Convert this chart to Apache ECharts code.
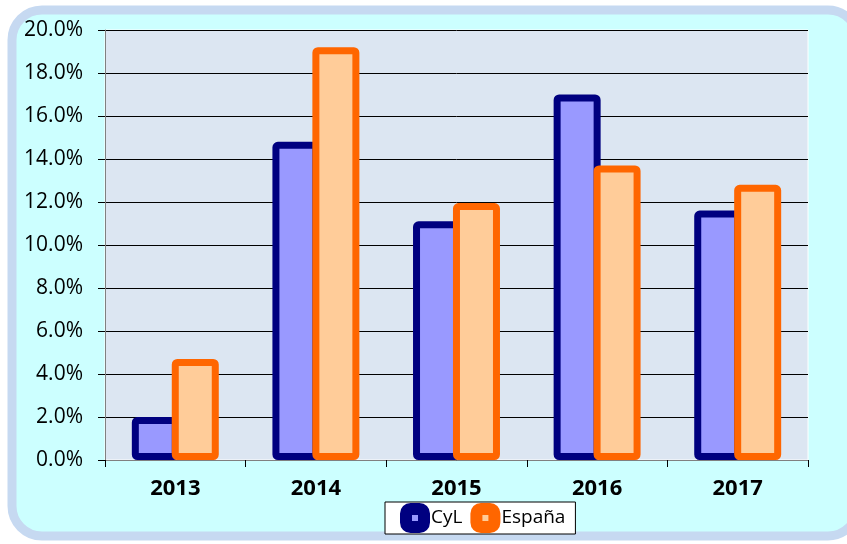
<!DOCTYPE html>
<html>
<head>
<meta charset="utf-8">
<script src="https://cdn.jsdelivr.net/npm/echarts@6/dist/echarts.min.js"></script>
<style>
  html, body { margin: 0; padding: 0; background: #fff; }
  #chart { width: 847px; height: 544px; }
</style>
</head>
<body>
<div id="chart"></div>
<script>
// datos (borde exterior de cada barra)
var years = ['2013', '2014', '2015', '2016', '2017'];
var cyl = [2.0, 14.8, 11.1, 17.0, 11.6];
var espana = [4.7, 19.2, 11.95, 13.7, 12.8];
var yTicks = [0, 2, 4, 6, 8, 10, 12, 14, 16, 18, 20];

var e = echarts.init(document.getElementById('chart'));
var font = 'Open Sans';

var option = {
    animation: false,
    textStyle: { fontFamily: font },
    graphic: [
        {
            type: 'rect',
            z: -10,
            shape: { x: 12, y: 10, width: 846, height: 526, r: 30 },
            style: { fill: '#ccffff', stroke: '#c6d9f1', lineWidth: 9 }
        }
    ],
    legend: {
        data: [
            { name: 'CyL', itemStyle: { color: '#9999ff', borderColor: '#000080', borderWidth: 12, borderRadius: 3 } },
            { name: 'España', itemStyle: { color: '#ffcc99', borderColor: '#ff6600', borderWidth: 12, borderRadius: 3 } }
        ],
        left: 385,
        top: 502,
        itemWidth: 18,
        itemHeight: 18,
        itemGap: 8,
        padding: [1, 10, 1, 15],
        backgroundColor: '#fff',
        borderColor: '#000',
        borderWidth: 1,
        textStyle: { fontSize: 19, lineHeight: 22, color: '#000', fontFamily: font, padding: [0, 0, 0, 2] }
    },
    grid: {
        left: 105,
        right: 39,
        top: 30,
        bottom: 84,
        show: true,
        backgroundColor: '#dce6f2',
        borderColor: '#fff',
        borderWidth: 1
    },
    xAxis: {
        type: 'category',
        data: years,
        axisLine: { lineStyle: { color: '#808080', width: 1 } },
        axisTick: { show: true, length: 7, lineStyle: { color: '#000' } },
        axisLabel: { fontSize: 22, fontWeight: 'bold', color: '#000', margin: 18, fontFamily: font }
    },
    yAxis: {
        type: 'value',
        min: yTicks[0],
        max: yTicks[yTicks.length - 1],
        interval: 2,
        axisLine: { show: true, lineStyle: { color: '#808080', width: 1 } },
        axisTick: { show: true, length: 7, lineStyle: { color: '#000' } },
        splitLine: { lineStyle: { color: '#000', width: 1 } },
        axisLabel: {
            fontSize: 21,
            color: '#000',
            margin: 22,
            fontFamily: font,
            formatter: function (v) { return v.toFixed(1) + '%'; }
        }
    },
    series: [
        {
            name: 'CyL',
            type: 'bar',
            data: cyl,
            barWidth: 47,
            barGap: '-15%',
            itemStyle: { color: '#9999ff', borderColor: '#000080', borderWidth: 7, borderRadius: 2 }
        },
        {
            name: 'España',
            type: 'bar',
            data: espana,
            barWidth: 47,
            barGap: '-15%',
            itemStyle: { color: '#ffcc99', borderColor: '#ff6600', borderWidth: 7, borderRadius: 2 }
        }
    ]
};
e.setOption(option);
</script>
</body>
</html>
